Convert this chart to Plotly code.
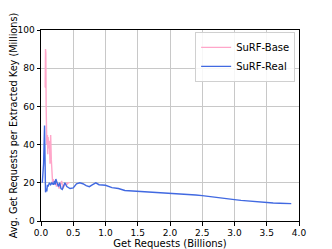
import plotly.graph_objects as go

base_x = [0.06, 0.065, 0.07, 0.075, 0.08, 0.085, 0.09, 0.10, 0.105, 0.11, 0.12, 0.13, 0.14, 0.15, 0.16,
          0.17, 0.18, 0.19, 0.20, 0.22, 0.24, 0.26, 0.28, 0.30, 0.32, 0.34, 0.36, 0.38, 0.40, 0.42, 0.44]
base_y = [70, 70, 90, 88, 60, 52, 40, 45, 35, 44, 38, 42, 30, 45, 32,
          25, 20, 22, 19, 21, 18, 20, 17, 19, 21, 17, 19, 20, 19, 20, 20]

real_x = [0.02, 0.04, 0.055, 0.06, 0.07, 0.08, 0.09, 0.10, 0.11, 0.13, 0.15, 0.17, 0.19, 0.21, 0.22,
          0.23, 0.25, 0.27, 0.29, 0.31, 0.33, 0.35, 0.37, 0.40, 0.45, 0.5, 0.55, 0.6, 0.65, 0.7,
          0.75, 0.8, 0.85, 0.9, 1.0, 1.1, 1.2, 1.3, 1.4, 1.5, 1.6, 1.7, 1.8, 1.9, 2.0,
          2.1, 2.2, 2.3, 2.4, 2.5, 2.6, 2.7, 2.8, 2.9, 3.0, 3.1, 3.2, 3.3, 3.4, 3.5,
          3.6, 3.7, 3.8, 3.88]
real_y = [20, 30, 50, 35, 15, 17, 15.5, 19, 18, 20, 19, 20, 19, 21, 19,
          22, 20, 18, 20, 17, 16.5, 19, 20, 18, 17, 17.3, 19.5, 20, 19.5, 18.5,
          18, 19, 20, 19, 18.7, 17.5, 17, 16, 15.8, 15.6, 15.2, 15, 14.9, 14.8, 14.7,
          14.2, 14, 13.9, 13.6, 13.3, 12.8, 12.5, 12, 11.6, 11.2, 10.8, 10.5, 10.2, 9.9, 9.5,
          9.4, 9.3, 9.2, 9.1]

x_ticks = [0.0, 0.5, 1.0, 1.5, 2.0, 2.5, 3.0, 3.5, 4.0]
y_ticks = [0, 20, 40, 60, 80, 100]

fig = go.Figure()
fig.add_trace(go.Scatter(x=base_x, y=base_y, mode="lines", name="SuRF-Base",
                         line=dict(color="#ffa6c9", width=1.4)))
fig.add_trace(go.Scatter(x=real_x, y=real_y, mode="lines", name="SuRF-Real",
                         line=dict(color="#4169e1", width=1.4)))

axis_common = dict(showline=True, linecolor="black", linewidth=1, mirror=True,
                   showgrid=True, gridcolor="#c8c8c8", gridwidth=1, automargin=False,
                   ticks="outside", ticklen=3.5, tickcolor="black", zeroline=False,
                   tickfont=dict(size=9, color="black"))

# The page body has an 8px margin, so the figure is sized to fit the window.
fig.update_layout(
    width=324, height=241,
    margin=dict(l=33, r=33, t=22, b=28),
    paper_bgcolor="white", plot_bgcolor="white",
    font=dict(family="DejaVu Sans", size=10, color="black"),
    xaxis=dict(range=[0, 4.0], tickvals=x_ticks, ticktext=[f"{v:.1f}" for v in x_ticks],
               title=dict(text="Get Requests (Billions)", standoff=3, font=dict(size=10)),
               **axis_common),
    yaxis=dict(range=[0, 100], tickvals=y_ticks,
               title=dict(text="Avg. Get Requests per Extracted Key (Millions)", standoff=8,
                          font=dict(size=9.7)),
               **axis_common),
    legend=dict(x=0.985, y=0.99, xanchor="right", yanchor="top",
                bgcolor="rgba(255,255,255,0.85)", bordercolor="#d0d0d0", borderwidth=1,
                font=dict(size=10), tracegroupgap=0, itemwidth=30),
    showlegend=True,
)

fig.write_html("out.html")
